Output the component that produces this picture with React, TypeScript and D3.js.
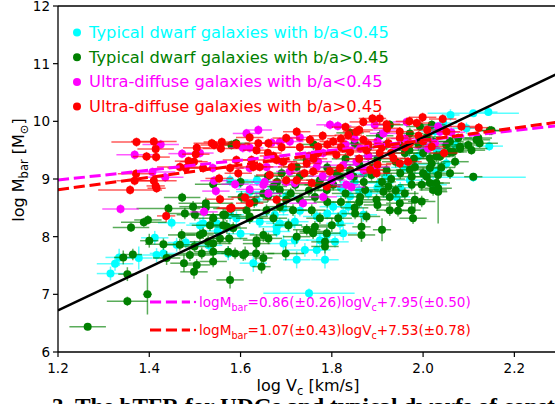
import React from "react";
import * as d3 from "d3";

// [logVc, logMbar, xerr, yerr]
const cyanPts: number[][] = [
  [1.315,7.36,0.03,0.12],[1.325,7.53,0.04,0.12],[1.334,7.64,0.03,0.15],[1.377,7.63,0.03,0.2],
  [1.412,7.98,0.03,0.12],[1.416,7.68,0.04,0.12],[1.431,7.71,0.03,0.1],[1.449,8.24,0.03,0.1],
  [1.46,7.86,0.03,0.12],[1.518,8.23,0.03,0.12],[1.548,8.23,0.03,0.12],[1.511,8.20,0.03,0.12],
  [1.577,8.98,0.04,0.1],[1.597,8.93,0.03,0.1],[1.636,8.98,0.03,0.1],[1.62,8.78,0.03,0.12],
  [1.661,8.76,0.03,0.12],[1.628,7.54,0.03,0.15],[1.679,8.17,0.04,0.12],[1.694,7.88,0.03,0.15],
  [1.705,8.20,0.03,0.12],[1.577,8.38,0.03,0.12],[1.591,8.32,0.03,0.12],[1.635,8.64,0.03,0.12],
  [1.694,8.49,0.03,0.12],[1.675,8.38,0.03,0.1],[1.642,8.26,0.03,0.1],[1.686,8.23,0.03,0.1],
  [1.719,8.26,0.03,0.12],[1.75,7.02,0.10,0.08],[1.723,7.60,0.03,0.15],[1.719,7.94,0.03,0.12],
  [1.741,7.77,0.04,0.12],[1.767,7.77,0.03,0.12],[1.789,8.03,0.03,0.12],[1.807,7.91,0.03,0.1],
  [1.825,8.06,0.03,0.12],[1.679,8.09,0.03,0.1],[1.573,7.71,0.03,0.12],[1.785,7.60,0.03,0.15],
  [1.836,8.52,0.03,0.12],[1.825,8.40,0.03,0.1],[1.869,8.38,0.03,0.12],[1.803,8.52,0.03,0.1],
  [1.818,8.23,0.03,0.12],[1.774,7.94,0.03,0.12],[1.767,8.35,0.03,0.1],[1.905,8.93,0.03,0.1],
  [1.942,8.69,0.03,0.12],[1.971,8.98,0.03,0.1],[2.022,8.90,0.03,0.12],[2.029,9.13,0.03,0.1],
  [2.051,9.27,0.03,0.1],[2.11,9.03,0.115,0.08],[2.145,9.57,0.03,0.08],[2.06,10.11,0.02,0.1],
  [2.11,10.14,0.10,0.05],[2.143,10.16,0.02,0.06],[2.095,9.88,0.03,0.1],[2.026,9.83,0.03,0.1],
  [2.044,9.97,0.03,0.1],[2.008,9.10,0.03,0.1],[1.96,9.2,0.03,0.1],[1.92,9.05,0.03,0.1],
  [1.88,8.75,0.03,0.1],[1.85,8.95,0.03,0.1],[1.99,9.4,0.03,0.1],[1.93,9.45,0.04,0.1],
  [1.87,9.1,0.03,0.1],[1.84,8.7,0.03,0.1],[1.98,9.25,0.03,0.1],[1.95,8.85,0.03,0.1],
  [1.9,8.85,0.03,0.1],[1.86,8.8,0.03,0.1],[1.82,8.85,0.03,0.1],[1.79,8.4,0.03,0.1],
  [1.73,8.45,0.03,0.1],[1.7,8.7,0.03,0.1],[1.55,8.1,0.04,0.1],[1.6,8.05,0.03,0.1],
  [1.48,7.9,0.04,0.1],[1.53,7.85,0.03,0.1],[2.0,9.55,0.03,0.1],[2.03,9.5,0.03,0.1],
  [2.07,9.6,0.03,0.1],
];

const greenPts: number[][] = [
  [1.265,6.44,0.04,0.06],[1.352,6.88,0.045,0.08],[1.396,7.00,0.01,0.35],[1.352,7.35,0.02,0.12],
  [1.343,7.64,0.02,0.12],[1.364,7.69,0.02,0.1],[1.40,7.93,0.02,0.12],[1.431,7.87,0.04,0.1],
  [1.471,8.03,0.03,0.1],[1.438,7.63,0.03,0.12],[1.36,8.16,0.04,0.08],[1.388,8.25,0.05,0.08],
  [1.397,8.29,0.03,0.08],[1.442,8.49,0.07,0.08],[1.472,8.68,0.04,0.08],[1.476,7.54,0.03,0.15],
  [1.498,7.39,0.03,0.12],[1.489,7.68,0.05,0.1],[1.499,7.83,0.04,0.1],[1.518,8.06,0.04,0.1],
  [1.524,8.58,0.06,0.1],[1.54,8.32,0.04,0.1],[1.562,8.38,0.04,0.1],[1.57,8.17,0.03,0.12],
  [1.54,7.74,0.04,0.12],[1.515,7.71,0.05,0.1],[1.529,7.91,0.04,0.1],[1.577,7.25,0.03,0.15],
  [1.575,7.97,0.04,0.1],[1.61,7.71,0.03,0.12],[1.634,7.71,0.04,0.12],[1.635,7.88,0.03,0.1],
  [1.65,8.03,0.03,0.12],[1.62,8.35,0.04,0.1],[1.657,8.46,0.03,0.1],[1.70,8.64,0.03,0.1],
  [1.699,7.71,0.04,0.12],[1.723,8.0,0.03,0.12],[1.613,8.46,0.03,0.1],[1.602,8.69,0.03,0.1],
  [1.58,8.49,0.04,0.1],[1.65,8.75,0.03,0.1],[1.59,9.62,0.03,0.08],[1.58,9.59,0.03,0.08],
  [1.54,8.91,0.04,0.1],[1.496,8.52,0.03,0.1],[1.524,8.51,0.03,0.1],[1.50,8.38,0.04,0.1],
  [1.566,8.38,0.03,0.1],[1.672,8.87,0.03,0.1],[1.686,8.81,0.03,0.1],[1.686,8.52,0.03,0.1],
  [1.715,8.46,0.03,0.1],[1.730,8.64,0.03,0.1],[1.62,8.32,0.03,0.1],[1.672,8.32,0.03,0.1],
  [1.705,8.20,0.03,0.1],[1.533,8.20,0.04,0.1],[1.562,8.20,0.03,0.1],[1.478,8.40,0.04,0.1],
  [1.723,9.21,0.03,0.08],[1.635,7.94,0.03,0.1],[1.661,7.97,0.03,0.1],[1.65,7.63,0.02,0.12],
  [1.646,7.48,0.02,0.12],[1.573,7.74,0.03,0.1],[1.588,7.71,0.03,0.1],[1.606,7.68,0.03,0.1],
  [1.54,7.57,0.03,0.1],[1.504,7.51,0.03,0.1],[1.785,7.91,0.03,0.12],[1.759,8.09,0.03,0.1],
  [1.584,8.15,0.03,0.1],[1.511,8.03,0.03,0.1],[1.54,7.88,0.04,0.1],[1.467,7.86,0.03,0.1],
  [1.555,7.97,0.03,0.1],[1.927,9.94,0.03,0.08],[1.993,9.91,0.03,0.08],[2.019,9.94,0.03,0.08],
  [2.008,9.73,0.03,0.08],[2.022,9.65,0.03,0.08],[2.051,9.59,0.03,0.08],[2.081,9.53,0.06,0.08],
  [2.106,9.50,0.03,0.08],[2.117,9.68,0.03,0.08],[2.124,9.62,0.04,0.08],[2.146,9.84,0.03,0.08],
  [2.066,9.47,0.03,0.08],[2.037,9.39,0.03,0.08],[2.019,9.27,0.03,0.1],[2.015,9.19,0.03,0.1],
  [1.982,9.21,0.03,0.1],[1.971,9.16,0.03,0.1],[1.975,9.04,0.03,0.1],[2.008,9.04,0.03,0.1],
  [2.029,8.93,0.03,0.1],[2.022,8.81,0.03,0.1],[2.033,8.84,0.03,0.1],[1.997,8.90,0.03,0.1],
  [1.975,8.90,0.03,0.1],[1.982,8.64,0.03,0.15],[1.975,8.46,0.02,0.2],[1.949,8.58,0.03,0.1],
  [1.927,8.69,0.03,0.1],[1.913,8.78,0.03,0.1],[1.898,8.64,0.03,0.1],[1.873,8.81,0.03,0.1],
  [1.862,8.69,0.03,0.1],[1.887,9.07,0.03,0.1],[1.848,9.04,0.03,0.1],[1.818,9.04,0.03,0.1],
  [1.803,8.90,0.03,0.1],[1.789,8.81,0.03,0.1],[1.763,8.69,0.03,0.1],[1.756,8.46,0.03,0.1],
  [1.774,8.32,0.03,0.1],[1.80,8.20,0.03,0.12],[1.814,8.32,0.03,0.1],[1.851,8.40,0.03,0.1],
  [1.865,8.17,0.02,0.15],[1.865,8.03,0.03,0.12],[1.876,8.35,0.03,0.1],[1.910,8.12,0.02,0.2],
  [1.927,8.46,0.03,0.1],[1.945,8.45,0.03,0.1],[1.978,8.32,0.03,0.1],[1.763,8.17,0.03,0.1],
  [1.759,8.06,0.03,0.1],[1.789,8.06,0.03,0.1],[1.785,7.83,0.03,0.12],[1.745,8.12,0.03,0.1],
  [1.745,9.33,0.03,0.1],[1.774,8.98,0.03,0.1],[1.949,9.59,0.03,0.1],[1.971,9.79,0.03,0.1],
  [1.924,8.87,0.03,0.1],[2.121,9.71,0.03,0.08],[2.099,9.59,0.03,0.08],[2.081,9.56,0.03,0.08],
  [2.059,9.47,0.03,0.08],[2.07,9.30,0.03,0.1],[2.059,9.10,0.03,0.1],[2.033,9.07,0.03,0.1],
  [2.015,8.93,0.03,0.1],[2.033,8.78,0.02,0.55],[1.997,8.61,0.03,0.1],[2.015,9.36,0.03,0.1],
  [2.029,9.39,0.03,0.1],[2.15,9.84,0.03,0.08],[2.059,9.65,0.03,0.08],[2.077,9.71,0.03,0.08],
  [2.11,9.04,0.02,0.06],[1.79,9.2,0.03,0.1],[1.83,9.35,0.03,0.1],[1.86,9.25,0.03,0.1],
  [1.9,9.35,0.03,0.1],[1.94,9.3,0.03,0.1],[1.88,9.55,0.03,0.1],[1.85,9.62,0.03,0.1],
  [1.76,9.6,0.03,0.1],[1.69,9.1,0.03,0.1],[1.66,9.05,0.03,0.1],[1.72,8.9,0.03,0.1],
  [1.75,8.8,0.03,0.1],[1.82,8.6,0.03,0.1],[1.85,8.5,0.03,0.1],[1.9,8.55,0.03,0.1],
  [1.93,9.0,0.03,0.1],[1.96,9.45,0.03,0.1],[1.905,9.75,0.03,0.1],[1.84,9.8,0.03,0.08],
  [1.99,9.6,0.03,0.1],[1.81,9.1,0.03,0.1],[1.84,9.15,0.03,0.1],[1.89,9.2,0.03,0.1],
  [1.92,9.15,0.03,0.1],[1.95,9.1,0.03,0.1],[1.98,9.35,0.03,0.1],[1.91,8.95,0.03,0.1],
  [1.87,8.95,0.03,0.1],[1.83,8.75,0.03,0.1],[1.79,8.6,0.03,0.1],[1.86,8.6,0.03,0.1],
  [1.94,8.8,0.03,0.1],[1.96,8.75,0.03,0.1],[2.0,9.1,0.03,0.1],[2.04,9.2,0.03,0.1],
  [1.77,8.9,0.03,0.1],[1.73,9.05,0.03,0.1],[1.68,8.95,0.03,0.1],[1.71,8.75,0.03,0.1],
  [1.63,8.6,0.03,0.1],[1.6,8.95,0.03,0.1],[1.66,8.7,0.03,0.1],[1.92,9.6,0.03,0.1],
  [1.97,9.5,0.03,0.1],[2.0,9.45,0.03,0.1],[1.88,9.4,0.03,0.1],
];

const magentaPts: number[][] = [
  [1.337,8.48,0.04,0.08],[1.368,9.42,0.04,0.08],[1.425,9.60,0.04,0.08],[1.407,9.12,0.05,0.08],
  [1.472,9.44,0.03,0.08],[1.435,9.03,0.04,0.08],[1.511,9.45,0.03,0.08],[1.539,9.19,0.03,0.08],
  [1.542,8.97,0.03,0.08],[1.546,8.79,0.03,0.08],[1.52,8.43,0.03,0.08],[1.613,9.79,0.03,0.08],
  [1.639,9.85,0.03,0.08],[1.605,9.54,0.03,0.08],[1.62,9.54,0.03,0.08],[1.686,9.64,0.03,0.08],
  [1.708,9.65,0.03,0.08],[1.65,8.90,0.03,0.08],[1.62,8.82,0.03,0.08],[1.588,8.91,0.03,0.08],
  [1.661,8.75,0.03,0.08],[1.62,9.19,0.03,0.08],[1.708,9.13,0.03,0.08],[1.668,9.63,0.03,0.08],
  [1.657,9.21,0.03,0.08],[1.653,8.95,0.03,0.08],[1.70,8.95,0.03,0.08],[1.719,8.93,0.03,0.08],
  [1.796,9.94,0.03,0.08],[1.813,9.92,0.03,0.08],[1.894,9.94,0.03,0.08],[1.964,9.99,0.03,0.08],
  [1.913,9.79,0.03,0.08],[2.037,9.82,0.03,0.08],[2.062,9.81,0.03,0.08],[1.862,9.53,0.03,0.08],
  [1.854,9.30,0.03,0.08],[1.825,9.24,0.03,0.08],[1.898,9.21,0.03,0.08],[1.832,8.90,0.03,0.08],
  [1.843,8.86,0.03,0.08],[1.781,8.69,0.03,0.08],[1.737,8.58,0.03,0.08],[1.80,8.98,0.03,0.08],
  [1.767,9.21,0.03,0.08],[1.781,9.45,0.03,0.08],[2.026,9.62,0.03,0.08],[2.011,9.53,0.03,0.08],
  [2.033,9.91,0.03,0.08],[1.75,9.4,0.03,0.08],[1.88,9.4,0.03,0.08],[1.94,9.55,0.03,0.08],
  [1.96,9.7,0.03,0.08],[1.85,9.7,0.03,0.08],[1.73,9.72,0.03,0.08],[1.78,9.05,0.03,0.08],
  [1.87,9.15,0.03,0.08],[1.77,9.3,0.03,0.08],[1.83,9.6,0.03,0.08],[1.9,9.65,0.03,0.08],
  [1.84,9.05,0.03,0.08],[1.69,9.3,0.03,0.08],[1.92,9.85,0.03,0.08],
];

const redPts: number[][] = [
  [1.372,9.64,0.055,0.08],[1.41,9.65,0.05,0.08],[1.414,9.52,0.04,0.08],[1.394,9.39,0.03,0.08],
  [1.415,9.38,0.03,0.08],[1.371,9.09,0.04,0.08],[1.368,8.97,0.04,0.08],[1.41,8.97,0.05,0.08],
  [1.414,8.88,0.02,0.08],[1.416,8.84,0.02,0.08],[1.358,8.81,0.07,0.08],[1.437,8.36,0.02,0.1],
  [1.467,9.21,0.05,0.08],[1.486,9.31,0.03,0.08],[1.502,9.43,0.03,0.08],[1.48,9.19,0.04,0.08],
  [1.518,9.19,0.04,0.08],[1.542,9.59,0.03,0.08],[1.559,9.64,0.04,0.08],[1.557,9.53,0.04,0.08],
  [1.553,9.01,0.03,0.08],[1.555,8.65,0.03,0.08],[1.58,8.50,0.03,0.08],[1.61,8.68,0.03,0.08],
  [1.62,8.58,0.03,0.08],[1.591,9.60,0.03,0.08],[1.62,9.72,0.03,0.08],[1.639,9.62,0.03,0.08],
  [1.635,9.50,0.03,0.08],[1.661,9.62,0.03,0.08],[1.70,9.71,0.03,0.08],[1.723,9.82,0.03,0.08],
  [1.679,9.33,0.03,0.08],[1.642,9.21,0.03,0.08],[1.591,9.33,0.03,0.08],[1.595,9.10,0.03,0.08],
  [1.628,9.21,0.03,0.08],[1.664,9.07,0.03,0.08],[1.694,9.30,0.03,0.08],[1.712,9.21,0.03,0.08],
  [1.723,8.98,0.03,0.08],[1.70,8.98,0.03,0.08],[1.679,8.64,0.03,0.08],[1.504,9.54,0.03,0.08],
  [1.537,9.62,0.04,0.08],[1.672,9.40,0.03,0.08],[1.577,9.19,0.03,0.08],[1.498,9.30,0.03,0.08],
  [1.577,8.49,0.03,0.08],[1.624,9.33,0.03,0.08],[1.889,10.05,0.03,0.08],[1.905,10.05,0.01,0.1],
  [1.869,9.99,0.03,0.08],[1.999,10.07,0.03,0.08],[2.043,10.04,0.03,0.08],[2.122,9.89,0.02,0.08],
  [2.084,9.91,0.04,0.08],[1.921,9.88,0.03,0.08],[1.949,9.82,0.03,0.08],[1.986,9.97,0.03,0.08],
  [1.836,9.76,0.03,0.08],[1.803,9.65,0.03,0.08],[1.752,9.68,0.03,0.08],[1.770,9.56,0.03,0.08],
  [1.745,9.27,0.03,0.08],[1.81,9.42,0.03,0.08],[1.84,9.47,0.03,0.08],[1.876,9.50,0.03,0.08],
  [1.905,9.45,0.03,0.08],[1.935,9.36,0.03,0.08],[1.967,9.30,0.03,0.08],[2.046,9.45,0.03,0.08],
  [1.949,9.71,0.03,0.08],[1.971,9.62,0.03,0.08],[1.924,9.62,0.03,0.08],[1.869,9.68,0.03,0.08],
  [1.854,9.82,0.03,0.08],[1.818,9.19,0.03,0.08],[1.796,9.13,0.03,0.08],[1.884,9.16,0.03,0.08],
  [1.898,9.10,0.03,0.08],[1.759,9.13,0.03,0.08],[1.756,8.93,0.03,0.08],[1.789,8.87,0.03,0.08],
  [1.949,9.27,0.03,0.08],[2.019,9.56,0.03,0.08],[2.009,9.85,0.03,0.08],[2.051,9.82,0.03,0.08],
  [2.0,9.65,0.03,0.08],[1.78,9.75,0.03,0.08],[1.82,9.55,0.03,0.08],[1.86,9.35,0.03,0.08],
  [1.77,9.45,0.03,0.08],[1.73,9.55,0.03,0.08],[1.91,9.55,0.03,0.08],[1.83,9.9,0.03,0.08],
  [1.76,9.35,0.03,0.08],[1.79,9.6,0.03,0.08],[1.82,9.7,0.03,0.08],[1.88,9.6,0.03,0.08],
  [1.9,9.25,0.03,0.08],[1.93,9.45,0.03,0.08],[1.96,9.55,0.03,0.08],[1.99,9.75,0.03,0.08],
  [1.74,9.1,0.03,0.08],[1.66,9.45,0.03,0.08],[1.69,9.55,0.03,0.08],[1.86,9.85,0.03,0.08],
  [1.92,9.95,0.03,0.08],[1.97,10.0,0.03,0.08],
];

const seriesNames = [
  "Typical dwarf galaxies with b/a<0.45",
  "Typical dwarf galaxies with b/a>0.45",
  "Ultra-diffuse galaxies with b/a<0.45",
  "Ultra-diffuse galaxies with b/a>0.45",
];
const seriesColors = ["#00ffff", "#008000", "#ff00ff", "#ff0000"];
const seriesData = [cyanPts, greenPts, magentaPts, redPts];

// fitted lines: [slope, intercept]
const fitBlack = [3.75, 2.22];
const fitMagenta = [0.86, 7.95];
const fitRed = [1.07, 7.53];
const eqMagenta = ["0.86(±0.26)", "+7.95(±0.50)"];
const eqRed = ["1.07(±0.43)", "+7.53(±0.78)"];

const xTicks = [1.2, 1.4, 1.6, 1.8, 2.0, 2.2];
const yTicks = [6, 7, 8, 9, 10, 11, 12];

const W = 555, H = 404;
const L = 58, R = 560, T = 6, B = 352;
const FONT = "DejaVu Sans, sans-serif";

export default function App() {
  const x = d3.scaleLinear().domain([1.2, 2.3]).range([L, R]);
  const y = d3.scaleLinear().domain([6, 12]).range([B, T]);
  const line = d3.line<number[]>().x(d => x(d[0])).y(d => y(d[1]));
  const fitPath = (f: number[]) => line([1.2, 2.3].map(v => [v, f[0] * v + f[1]]));

  const eq = (parts: string[], color: string, yy: number) => (
    <g>
      <line x1={150} x2={190} y1={yy} y2={yy} stroke={color} strokeWidth={3} strokeDasharray="11.1,4.8" />
      <circle cx={195} cy={yy} r={1.2} fill={color} />
      <text x={199} y={yy + 5} fill={color} fontSize={13.6} fontFamily={FONT}>
        logM<tspan fontSize={9.7} dy={4}>bar</tspan>
        <tspan dy={-4}>={parts[0]}logV</tspan>
        <tspan fontSize={9.7} dy={4}>c</tspan>
        <tspan dy={-4}>{parts[1]}</tspan>
      </text>
    </g>
  );

  return (
    <svg width={W} height={H} style={{ position: "absolute", left: 0, top: 0, background: "#fff" }}>
      <defs>
        <clipPath id="plotclip">
          <rect x={L} y={T} width={R - L} height={B - T} />
        </clipPath>
      </defs>
      <g clipPath="url(#plotclip)">
        {seriesData.map((pts, si) => (
          <g key={si}>
            {pts.map((p, i) => (
              <g key={i} stroke={seriesColors[si]} strokeOpacity={0.65} strokeWidth={1.5}>
                <line x1={x(p[0] - p[2])} x2={x(p[0] + p[2])} y1={y(p[1])} y2={y(p[1])} />
                <line x1={x(p[0])} x2={x(p[0])} y1={y(p[1] - p[3])} y2={y(p[1] + p[3])} />
              </g>
            ))}
            {pts.map((p, i) => (
              <circle key={i} cx={x(p[0])} cy={y(p[1])} r={4} fill={seriesColors[si]} />
            ))}
          </g>
        ))}
        <path d={fitPath(fitBlack) || ""} stroke="#000" strokeWidth={2.5} fill="none" />
        <path d={fitPath(fitMagenta) || ""} stroke="#ff00ff" strokeWidth={3} fill="none" strokeDasharray="11.1,4.8" />
        <path d={fitPath(fitRed) || ""} stroke="#ff0000" strokeWidth={3} fill="none" strokeDasharray="11.1,4.8" />
      </g>

      {/* axes */}
      <g stroke="#000" strokeWidth={1.3} fill="none">
        <line x1={L} x2={L} y1={T} y2={B} />
        <line x1={L} x2={R} y1={B} y2={B} />
        <line x1={L} x2={R} y1={T} y2={T} />
      </g>
      {yTicks.map(t => (
        <g key={t}>
          <line x1={L - 5} x2={L} y1={y(t)} y2={y(t)} stroke="#000" strokeWidth={1.2} />
          <text x={L - 8} y={y(t) + 5} textAnchor="end" fontSize={13.5} fontFamily={FONT}>{t}</text>
        </g>
      ))}
      {xTicks.map(t => (
        <g key={t}>
          <line x1={x(t)} x2={x(t)} y1={B} y2={B + 5} stroke="#000" strokeWidth={1.2} />
          <text x={x(t)} y={B + 21} textAnchor="middle" fontSize={13.5} fontFamily={FONT}>{t.toFixed(1)}</text>
        </g>
      ))}
      <text x={308} y={391} textAnchor="middle" fontSize={16} fontFamily={FONT}>
        log V<tspan fontSize={11.5} dy={4}>c</tspan><tspan dy={-4}> [km/s]</tspan>
      </text>
      <text transform="translate(24,170) rotate(-90)" textAnchor="middle" fontSize={16} fontFamily={FONT}>
        log M<tspan fontSize={11.5} dy={4}>bar</tspan><tspan dy={-4}> [M</tspan><tspan fontSize={11.5} dy={4}>⊙</tspan><tspan dy={-4}>]</tspan>
      </text>

      {/* legend */}
      {seriesNames.map((n, i) => (
        <g key={n}>
          <circle cx={77} cy={32.5 + 24.7 * i} r={4} fill={seriesColors[i]} />
          <text x={89} y={32.5 + 24.7 * i + 5.5} fill={seriesColors[i]} fontSize={16.3} fontFamily={FONT}>{n}</text>
        </g>
      ))}

      {eq(eqMagenta, "#ff00ff", 302)}
      {eq(eqRed, "#ff0000", 330)}

      <text x={52} y={414} fontSize={23.3} fontWeight="bold" fontFamily="Liberation Serif, serif">
        3. The bTFR for UDGs and typical dwarfs of constant
      </text>
    </svg>
  );
}
